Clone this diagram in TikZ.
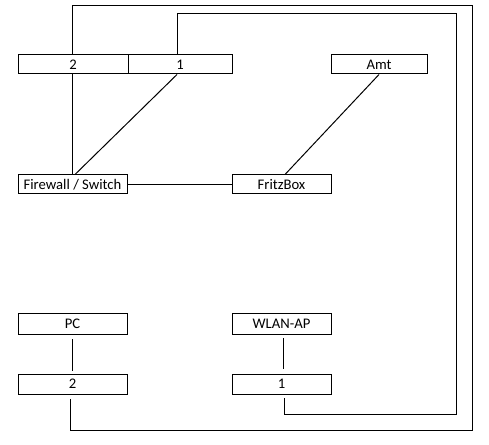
\documentclass[tikz,border=0pt]{standalone}
\usepackage{fontspec}
\setmainfont{Carlito}
\newdimen\pxu \pxu=0.75pt
\begin{document}
\begin{tikzpicture}[x=0.75pt,y=-0.75pt,
  box/.style={draw,line width=1\pxu,inner sep=0pt,minimum height=19\pxu,font=\fontsize{11pt}{13pt}\selectfont},
  wire/.style={line width=1\pxu}]
\useasboundingbox (0,0) rectangle (489,445);
\node[box,minimum width=110\pxu] (t2) at (73,64.5) {2};
\node[box,minimum width=104\pxu] (t1) at (180,64.5) {1};
\node[box,minimum width=96\pxu] (amt) at (379,64.5) {Amt};
\node[box,minimum width=109\pxu] (fw) at (72.5,184.5) {Firewall / Switch};
\node[box,minimum width=99\pxu] (fb) at (281.5,184.5) {FritzBox};
\node[box,minimum width=109\pxu,minimum height=20\pxu] (pc) at (72.5,324) {PC};
\node[box,minimum width=99\pxu,minimum height=20\pxu] (wl) at (281.5,324) {WLAN-AP};
\node[box,minimum width=109\pxu,minimum height=20\pxu] (b2) at (72.5,384) {2};
\node[box,minimum width=99\pxu,minimum height=20\pxu] (b1) at (281.5,384) {1};
\coordinate (o1) at (472,6);
\coordinate (o2) at (70,430);
\coordinate (i1) at (456,14);
\coordinate (i2) at (284,414);
% outer loop
\draw[wire] (t2.north -| 72,0) |- (o1) |- (o2) -- (70,399);
% inner loop
\draw[wire] (t1.north -| 177,0) |- (i1) |- (i2) -- (284,398);
% links
\draw[wire] (t2.south -| 72,0) -- (fw.north -| 72,0);
\draw[wire] (t1.south -| 177,0) -- (fw.north -| 75,0);
\draw[wire] (amt.south) -- (fb.north -| 285,0);
\draw[wire] (fw.east) -- (fb.west);
\draw[wire] (72,339) -- (72,371);
\draw[wire] (283,338) -- (283,369);
\end{tikzpicture}
\end{document}
